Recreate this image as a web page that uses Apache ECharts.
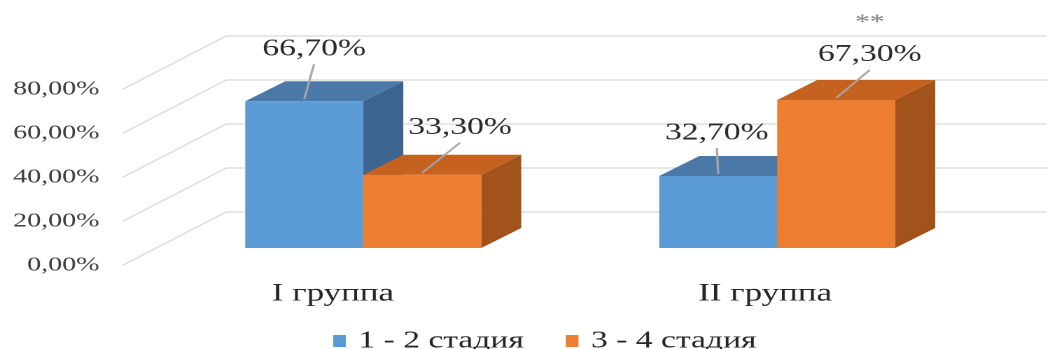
<!DOCTYPE html>
<html>
<head>
<meta charset="utf-8">
<script src="https://cdn.jsdelivr.net/npm/echarts@6/dist/echarts.min.js"></script>
<style>
  html, body { margin: 0; padding: 0; background: #ffffff; overflow: hidden; }
  /* the chart is laid out narrower and stretched sideways, which widens the serif lettering */
  #chart { width: 748px; height: 349px; transform: scaleX(1.4); transform-origin: 0 0; }
</style>
</head>
<body>
<div id="chart"></div>
<script>
// ---- data ----
const categories = ['I группа', 'II группа'];
const seriesNames = ['1 - 2 стадия', '3 - 4 стадия'];
const stage12 = [66.7, 32.7];
const stage34 = [33.3, 67.3];
const stage34Notes = ['', '**'];
const yTicks = [0, 20, 40, 60, 80];

// ---- pseudo-3D geometry (pixels) ----
const PLANE = { dx: 23.6, dy: -17 };   // front face of the columns, behind the axis plane
const DEPTH = { dx: 28.6, dy: -20 };   // column depth
const WALL  = { dx: 73.6, dy: -53 };   // back wall
const BAR_FRACTION = 0.285;            // column width as share of a category band

// data-label placement relative to the middle of each column's top edge
const labelNudge = [
  [[7, -52], [-1, -43]],
  [[27, -47], [24, -45]]
];
const categoryShift = [2, 15];

const FONT = 'Liberation Serif';
const palettes = [
  { front: '#5b9bd5', top: '#4a79a8', side: '#3c6592' },
  { front: '#ed7d31', top: '#c6621f', side: '#a2531b' }
];

function fmtPct(v) { return v.toFixed(2).replace('.', ',') + '%'; }

function renderGridLine(params, api) {
  const cs = params.coordSys;
  const y = api.coord([0, api.value(1)])[1];
  const x0 = cs.x;
  const bx = x0 + WALL.dx, by = y + WALL.dy;
  const style = { stroke: '#d9d9d9', lineWidth: 1.2 };
  return {
    type: 'group',
    children: [
      { type: 'line', shape: { x1: x0, y1: y, x2: bx, y2: by }, style },
      { type: 'line', shape: { x1: bx, y1: by, x2: api.getWidth(), y2: by }, style }
    ]
  };
}

function renderCategoryLabel(params, api) {
  const i = api.value(0);
  const base = api.coord([i, 0]);
  return {
    type: 'text',
    x: base[0] + categoryShift[i],
    y: base[1] + 29,
    style: {
      text: categories[i], fontFamily: FONT, fontSize: 25, fill: '#262626',
      align: 'center', verticalAlign: 'middle'
    }
  };
}

function makeColumnRenderer(sIdx, notes) {
  const pal = palettes[sIdx];
  return function (params, api) {
    const i = api.value(0), v = api.value(1);
    const top = api.coord([i, v]);
    const base = api.coord([i, 0]);
    const bw = api.size([1, 0])[0] * BAR_FRACTION;
    const x0 = top[0] + PLANE.dx - (sIdx === 0 ? bw : 0);
    const x1 = x0 + bw;
    const yt = top[1] + PLANE.dy;
    const yb = base[1] + PLANE.dy;
    const cx = x0 + bw / 2;
    const [nx, ny] = labelNudge[sIdx][i];
    const children = [
      { type: 'polygon', shape: { points: [[x1, yt], [x1 + DEPTH.dx, yt + DEPTH.dy], [x1 + DEPTH.dx, yb + DEPTH.dy], [x1, yb]] },
        style: { fill: pal.side } },
      { type: 'polygon', shape: { points: [[x0, yt], [x1, yt], [x1 + DEPTH.dx, yt + DEPTH.dy], [x0 + DEPTH.dx, yt + DEPTH.dy]] },
        style: { fill: pal.top } },
      { type: 'rect', shape: { x: x0, y: yt, width: bw, height: yb - yt }, style: { fill: pal.front } },
      { type: 'line', shape: { x1: cx, y1: yt - 2, x2: cx + nx, y2: yt + ny + 15 },
        style: { stroke: '#a6a6a6', lineWidth: 1.6 } },
      { type: 'text', x: cx + nx, y: yt + ny,
        style: { text: fmtPct(v), fontFamily: FONT, fontSize: 24, fill: '#2b2b2b', align: 'center', verticalAlign: 'middle' } }
    ];
    if (notes && notes[i]) {
      children.push({ type: 'text', x: cx + nx, y: yt + ny - 32,
        style: { text: notes[i], fontFamily: FONT, fontSize: 21, fill: '#7f7f7f', align: 'center', verticalAlign: 'middle' } });
    }
    return { type: 'group', children };
  };
}

const chart = echarts.init(document.getElementById('chart'), null, { renderer: 'canvas', devicePixelRatio: 2 });
chart.setOption({
  animation: false,
  backgroundColor: '#ffffff',
  grid: { left: 88, right: 68.6, top: 89, bottom: 84, containLabel: false },
  xAxis: {
    type: 'category', data: categories,
    axisLine: { show: false }, axisTick: { show: false }, axisLabel: { show: false }, splitLine: { show: false }
  },
  yAxis: {
    type: 'value', min: 0, max: 80, interval: 20,
    axisLine: { show: false }, axisTick: { show: false }, splitLine: { show: false },
    axisLabel: { margin: 17, formatter: fmtPct, fontFamily: FONT, fontSize: 20, color: '#404040' }
  },
  legend: {
    data: seriesNames, left: 238, top: 329, padding: 0, icon: 'rect', itemWidth: 9, itemHeight: 12, itemGap: 30,
    textStyle: { fontFamily: FONT, fontSize: 24, lineHeight: 24, color: '#262626', padding: [0, 0, 0, 4] }
  },
  series: [
    { type: 'custom', name: 'grid', clip: false, silent: true, z: 1,
      data: yTicks.map(t => [0, t]), renderItem: renderGridLine },
    { type: 'custom', name: 'categories', clip: false, silent: true, z: 1,
      data: categories.map((c, i) => [i, 0]), renderItem: renderCategoryLabel },
    { type: 'custom', name: seriesNames[0], clip: false, z: 2, itemStyle: { color: palettes[0].front },
      data: stage12.map((v, i) => [i, v]), renderItem: makeColumnRenderer(0, null) },
    { type: 'custom', name: seriesNames[1], clip: false, z: 3, itemStyle: { color: palettes[1].front },
      data: stage34.map((v, i) => [i, v]), renderItem: makeColumnRenderer(1, stage34Notes) }
  ]
});
</script>
</body>
</html>
